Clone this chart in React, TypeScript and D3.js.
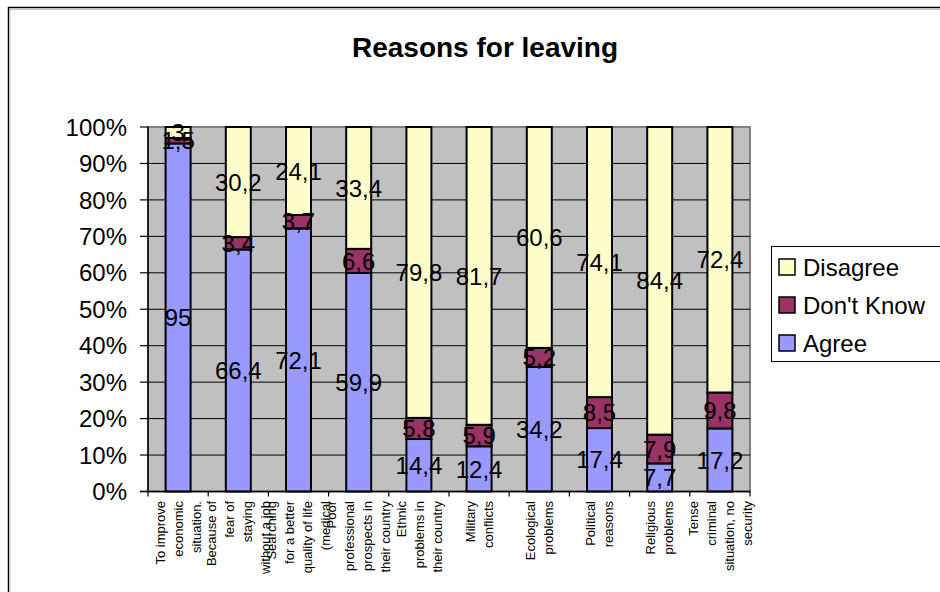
import { useRef, useEffect } from "react";
import * as d3 from "d3";

const categories: string[][] = [
  ["To improve", "economic", "situation."],
  ["Because of", "fear of", "staying", "without a job"],
  ["Searching", "for a better", "quality of life", "(medical"],
  ["Poor", "professional", "prospects in", "their country"],
  ["Ethnic", "problems in", "their country"],
  ["Military", "conflicts"],
  ["Ecological", "problems"],
  ["Political", "reasons"],
  ["Religious", "problems"],
  ["Tense", "criminal", "situation, no", "security"],
];

const agree = [95, 66.4, 72.1, 59.9, 14.4, 12.4, 34.2, 17.4, 7.7, 17.2];
const dontKnow = [1.5, 3.4, 3.7, 6.6, 5.8, 5.9, 5.2, 8.5, 7.9, 9.8];
const disagree = [3, 30.2, 24.1, 33.4, 79.8, 81.7, 60.6, 74.1, 84.4, 72.4];

const seriesNames = ["Agree", "Don't Know", "Disagree"];
const seriesColors = ["#9999ff", "#993366", "#ffffcc"];
const yTicks = [0, 10, 20, 30, 40, 50, 60, 70, 80, 90, 100];

const W = 940;
const H = 592;
const plot = { left: 148, right: 750, top: 127, bottom: 491.5 };
const font = "'Liberation Sans', Arial, sans-serif";

const App = () => {
  const ref = useRef<SVGSVGElement | null>(null);

  useEffect(() => {
    const svg = d3.select(ref.current);
    svg.selectAll("*").remove();

    // chart frame (extends past the window like the original)
    svg.append("rect").attr("x", 8.5).attr("y", 7.5).attr("width", 1000).attr("height", 1000)
      .attr("fill", "white").attr("stroke", "black").attr("stroke-width", 1.5);
    svg.append("path").attr("d", "M10,1000V9.5H1000").attr("fill", "none").attr("stroke", "#c8c8c8");

    svg.append("text").attr("x", 485).attr("y", 57).attr("text-anchor", "middle")
      .attr("font-family", font).attr("font-weight", "bold").attr("font-size", 28)
      .text("Reasons for leaving");

    const x = d3.scaleBand<number>()
      .domain(d3.range(categories.length))
      .range([plot.left, plot.right]);
    const y = d3.scaleLinear().domain([0, 100]).range([plot.bottom, plot.top]);
    const barW = x.bandwidth() * 0.415;

    // plot area
    svg.append("rect").attr("x", plot.left).attr("y", plot.top)
      .attr("width", plot.right - plot.left).attr("height", plot.bottom - plot.top)
      .attr("fill", "#c0c0c0").attr("stroke", "#808080").attr("stroke-width", 2);

    svg.append("g").selectAll("line").data(yTicks.slice(1, -1)).enter().append("line")
      .attr("x1", plot.left).attr("x2", plot.right)
      .attr("y1", (d) => y(d)).attr("y2", (d) => y(d))
      .attr("stroke", "black").attr("stroke-width", 1);

    // stacked percentages
    const rows = agree.map((a, i) => {
      const vals = [a, dontKnow[i], disagree[i]];
      const total = d3.sum(vals);
      let acc = 0;
      return vals.map((v, k) => {
        const y0 = (acc / total) * 100;
        acc += v;
        const y1 = (acc / total) * 100;
        return { i, k, v, y0, y1 };
      });
    });
    const segs = rows.flat();

    const barG = svg.append("g");
    barG.selectAll("rect").data(segs).enter().append("rect")
      .attr("x", (d) => (x(d.i) as number) + x.bandwidth() / 2 - barW / 2)
      .attr("width", barW)
      .attr("y", (d) => y(d.y1))
      .attr("height", (d) => y(d.y0) - y(d.y1))
      .attr("fill", (d) => seriesColors[d.k])
      .attr("stroke", "black").attr("stroke-width", 2);

    // axes
    svg.append("line").attr("x1", plot.left).attr("x2", plot.left)
      .attr("y1", plot.top).attr("y2", plot.bottom).attr("stroke", "black").attr("stroke-width", 1.5);
    svg.append("line").attr("x1", plot.left - 8).attr("x2", plot.right)
      .attr("y1", plot.bottom).attr("y2", plot.bottom).attr("stroke", "black").attr("stroke-width", 1.5);

    const yAxis = svg.append("g");
    yTicks.forEach((t) => {
      yAxis.append("line").attr("x1", plot.left - 8).attr("x2", plot.left)
        .attr("y1", y(t)).attr("y2", y(t)).attr("stroke", "black").attr("stroke-width", 1.2);
      yAxis.append("text").attr("x", 127).attr("y", y(t)).attr("dy", "0.36em")
        .attr("text-anchor", "end").attr("font-family", font).attr("font-size", 24)
        .text(t + "%");
    });

    const xAxis = svg.append("g");
    d3.range(categories.length + 1).forEach((i) => {
      const px = i < categories.length ? (x(i) as number) : plot.right;
      xAxis.append("line").attr("x1", px).attr("x2", px)
        .attr("y1", plot.bottom).attr("y2", plot.bottom + 5).attr("stroke", "black").attr("stroke-width", 1.2);
    });
    categories.forEach((lines, i) => {
      const cx = (x(i) as number) + x.bandwidth() / 2;
      lines.forEach((ln, j) => {
        const off = (j - (lines.length - 1) / 2) * 18;
        xAxis.append("text")
          .attr("transform", `translate(${cx + off},501) rotate(-90)`)
          .attr("dy", "0.36em")
          .attr("text-anchor", "end").attr("font-family", font).attr("font-size", 13)
          .text(ln);
      });
    });

    // data labels
    svg.append("g").selectAll("text").data(segs).enter().append("text")
      .attr("x", (d) => (x(d.i) as number) + x.bandwidth() / 2)
      .attr("y", (d) => y((d.y0 + d.y1) / 2))
      .attr("dy", "0.36em")
      .attr("text-anchor", "middle").attr("font-family", font).attr("font-size", 24)
      .text((d) => String(d.v).replace(".", ","));

    // legend
    const lg = svg.append("g");
    lg.append("rect").attr("x", 771.5).attr("y", 246.5).attr("width", 300).attr("height", 115)
      .attr("fill", "white").attr("stroke", "black").attr("stroke-width", 1);
    const order = [2, 1, 0];
    order.forEach((k, r) => {
      const cy = 267 + r * 38;
      lg.append("rect").attr("x", 779).attr("y", cy - 8).attr("width", 16).attr("height", 16)
        .attr("fill", seriesColors[k]).attr("stroke", "black").attr("stroke-width", 1.5);
      lg.append("text").attr("x", 803).attr("y", cy).attr("dy", "0.36em")
        .attr("font-family", font).attr("font-size", 24).text(seriesNames[k]);
    });
  }, []);

  return (
    <svg
      ref={ref}
      width={W}
      height={H}
      style={{ position: "absolute", left: 0, top: 0, display: "block", background: "white" }}
    />
  );
};

export default App;
